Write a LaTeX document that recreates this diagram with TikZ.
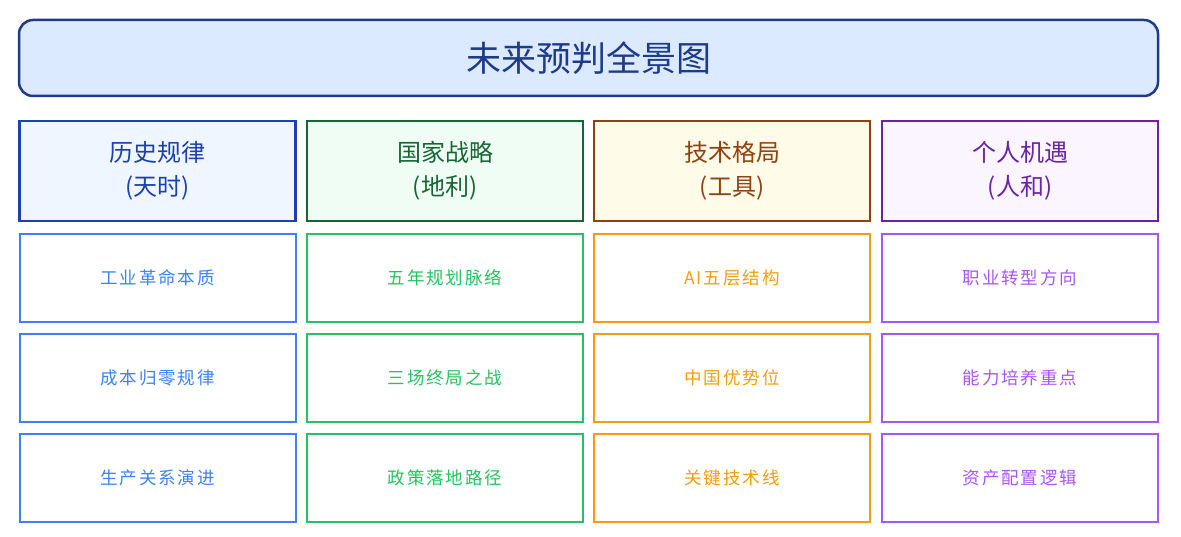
\documentclass[tikz,border=0pt]{standalone}
\usepackage{fontspec}
\setmainfont{Noto Sans CJK SC}
\newfontfamily\cjk{Noto Sans CJK SC}
\newfontfamily\cjkspaced[LetterSpace=11]{Noto Sans CJK SC}
\definecolor{titlefill}{HTML}{DBEAFE}
\definecolor{titledraw}{HTML}{1E3A8A}
\definecolor{hAfill}{HTML}{EFF6FF}\definecolor{hAdraw}{HTML}{1E40AF}
\definecolor{hBfill}{HTML}{F0FDF4}\definecolor{hBdraw}{HTML}{166534}
\definecolor{hCfill}{HTML}{FEFCE8}\definecolor{hCdraw}{HTML}{92400E}
\definecolor{hDfill}{HTML}{FAF5FF}\definecolor{hDdraw}{HTML}{6B21A8}
\definecolor{iA}{HTML}{3B82F6}
\definecolor{iB}{HTML}{22C55E}
\definecolor{iC}{HTML}{F59E0B}
\definecolor{iD}{HTML}{A855F7}
\tikzset{
  titlebox/.style={draw=titledraw, fill=titlefill, line width=2.5pt, rounded corners=14pt,
    minimum width=1139pt, minimum height=76pt, text=titledraw, font=\cjk\fontsize{35}{40}\selectfont},
  headbox/.style={line width=2.8pt, minimum width=276pt, minimum height=100pt, align=center,
    font=\cjk\fontsize{24}{34}\selectfont},
  itembox/.style={line width=2pt, fill=white, minimum width=276pt, minimum height=88pt,
    font=\cjkspaced\fontsize{17.5}{20}\selectfont},
  itemtext/.style={anchor=center},
}
\begin{document}
\begin{tikzpicture}[x=1pt,y=-1pt]
\useasboundingbox (0,0) rectangle (1181,537);
\node[titlebox] (title) at (588.5,58) {未来预判全景图};
% headers
\node[headbox, draw=hAdraw, fill=hAfill, text=hAdraw] (hA) at (157.5,171) {历史规律\\(天时)};
\node[headbox, draw=hBdraw, fill=hBfill, text=hBdraw] (hB) at (445,171) {国家战略\\(地利)};
\node[headbox, draw=hCdraw, fill=hCfill, text=hCdraw] (hC) at (732,171) {技术格局\\(工具)};
\node[headbox, draw=hDdraw, fill=hDfill, text=hDdraw] (hD) at (1020,171) {个人机遇\\(人和)};
% column A
\node[itembox, draw=iA, text=iA] (a1) at (157.5,278) {工业革命本质};
\node[itembox, draw=iA, text=iA] (a2) at (157.5,378) {成本归零规律};
\node[itembox, draw=iA, text=iA] (a3) at (157.5,478) {生产关系演进};
% column B
\node[itembox, draw=iB, text=iB] (b1) at (445,278) {五年规划脉络};
\node[itembox, draw=iB, text=iB] (b2) at (445,378) {三场终局之战};
\node[itembox, draw=iB, text=iB] (b3) at (445,478) {政策落地路径};
% column C
\node[itembox, draw=iC, text=iC] (c1) at (732,278) {AI五层结构};
\node[itembox, draw=iC, text=iC] (c2) at (732,378) {中国优势位};
\node[itembox, draw=iC, text=iC] (c3) at (732,478) {关键技术线};
% column D
\node[itembox, draw=iD, text=iD] (d1) at (1020,278) {职业转型方向};
\node[itembox, draw=iD, text=iD] (d2) at (1020,378) {能力培养重点};
\node[itembox, draw=iD, text=iD] (d3) at (1020,478) {资产配置逻辑};
\end{tikzpicture}
\end{document}
